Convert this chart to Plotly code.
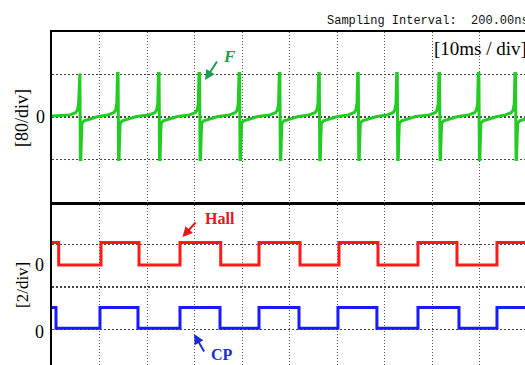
import plotly.graph_objects as go

# ---------------- data ----------------
MS_PER_DIV = 10
# F channel (80 / div): time of each spike (ms)
f_spike_ms = [5.75, 13.79, 22.42, 30.95, 39.37, 47.85, 56.15, 64.36,
              72.57, 81.47, 89.75, 97.47]
# profile of one spike: offset from spike (ms) and value
f_shape_dt = [-2.0, -0.8, -0.4, -0.15, 0.0, 0.12, 0.22, 0.32, 0.42, 0.55, 1.0, 2.5, 4.0]
f_shape_val = [4, 8, 13, 25, 82, 82, -80, -80, -45, -12, -7, -3, 1]
f_start_val = 2

# Hall channel (2 / div): edge times (ms), starts high
hall_edges_ms = [1.41, 10.32, 18.32, 26.95, 35.52, 43.58, 52.21, 60.42,
                 68.63, 77.05, 85.26, 93.68]
hall_low, hall_high = 0.0, 1.05
hall_zero = 1.04        # channel zero position on the lower screen

# CP channel (2 / div): edge times (ms), starts high
cp_edges_ms = [0.84, 10.10, 18.10, 26.95, 35.37, 43.58, 52.00, 60.20,
               68.40, 77.05, 85.68, 93.68]
cp_low, cp_high = 0.0, 0.97
cp_zero = -1.94
T_END_MS = 100.0

# ---------------- layout geometry (page pixels) ----------------
W_PAGE, H_PAGE = 525, 365
ML, MT = 52, 32                 # plot area corner in page pixels
PX_PER_DIV = 47.5
PW, PH = W_PAGE - ML, H_PAGE - MT
X_MAX = PW / PX_PER_DIV * MS_PER_DIV
SPLIT = (H_PAGE - 202) / PH

# ---------------- build traces ----------------
f_t, f_v = [0.0], [f_start_val]
for ts in f_spike_ms:
    for dt, v in zip(f_shape_dt, f_shape_val):
        f_t.append(ts + dt)
        f_v.append(v)


def square(edges, lo, hi, zero):
    t, v = [0.0], [hi + zero]
    level = hi
    for e in edges:
        t.append(e); v.append(level + zero)
        level = lo if level == hi else hi
        t.append(e); v.append(level + zero)
    t.append(T_END_MS); v.append(level + zero)
    return t, v


h_t, h_v = square(hall_edges_ms, hall_low, hall_high, hall_zero)
c_t, c_v = square(cp_edges_ms, cp_low, cp_high, cp_zero)

fig = go.Figure()
fig.add_trace(go.Scatter(x=f_t, y=f_v, mode="lines", xaxis="x", yaxis="y",
                         line=dict(color="#22cc22", width=3), hoverinfo="skip"))
fig.add_trace(go.Scatter(x=h_t, y=h_v, mode="lines", xaxis="x2", yaxis="y2",
                         line=dict(color="#ff1a1a", width=3), hoverinfo="skip"))
fig.add_trace(go.Scatter(x=c_t, y=c_v, mode="lines", xaxis="x2", yaxis="y2",
                         line=dict(color="#1a1aff", width=3), hoverinfo="skip"))


def px(x):
    return (x - ML) / PW


def py(y):
    return (H_PAGE - y) / PH


grid_v = dict(showgrid=True, gridcolor="#555555", gridwidth=1, griddash="1px,2px")
grid_h = dict(showgrid=True, gridcolor="#444444", gridwidth=1.3, griddash="2px,2px")

fig.update_layout(
    width=W_PAGE, height=H_PAGE,
    margin=dict(l=ML, r=0, t=MT, b=0),
    paper_bgcolor="white", plot_bgcolor="white",
    showlegend=False,
    xaxis=dict(domain=[0, 1], anchor="y", range=[0, X_MAX], dtick=10, tick0=0,
               showticklabels=False, ticks="", zeroline=False,
               showline=True, mirror=True, linecolor="black", linewidth=2.5, **grid_v),
    xaxis2=dict(domain=[0, 1], anchor="y2", matches="x", range=[0, X_MAX], dtick=10, tick0=0,
                showticklabels=False, ticks="", zeroline=False, showline=False, **grid_v),
    yaxis=dict(domain=[SPLIT, 1], anchor="x", range=[-160, 160], dtick=80, tick0=0,
               showticklabels=False, ticks="", zeroline=False,
               showline=True, linecolor="black", linewidth=2.5, **grid_h),
    yaxis2=dict(domain=[0, SPLIT], anchor="x2", range=[-78 / 21.25, 4], dtick=2, tick0=0,
                showticklabels=False, ticks="", zeroline=False,
                showline=True, linecolor="black", linewidth=2.5, **grid_h),
)

serif = "Liberation Serif, Times New Roman, serif"
ann = []


def text(x, y, s, size, color="black", family=serif, angle=0, xanchor="center"):
    ann.append(dict(xref="paper", yref="paper", x=px(x), y=py(y), text=s,
                    showarrow=False, xanchor=xanchor, yanchor="middle", textangle=angle,
                    font=dict(size=size, color=color, family=family)))


def arrow(x_tip, y_tip, x_tail, y_tail, color):
    ann.append(dict(xref="paper", yref="paper", x=px(x_tip), y=py(y_tip), text="",
                    showarrow=True, ax=x_tail - x_tip, ay=y_tail - y_tip,
                    arrowhead=2, arrowsize=1, arrowwidth=2, arrowcolor=color,
                    standoff=0, startstandoff=0))


text(325, 20.5, "Sampling Interval:  200.00ns", 12, "#111111",
     "Liberation Mono, DejaVu Sans Mono, monospace", xanchor="left")
text(480, 49, "[10ms / div]", 19)
text(22, 118, "[80/div]", 18, angle=-90)
text(40, 117, "0", 18)
text(22, 285, "[2/div]", 17, angle=-90)
text(39, 265, "0", 18)
text(39, 332, "0", 18)

text(229, 57, "<b><i>F</i></b>", 17, "#1a9e50")
arrow(205, 80, 218, 60, "#1a9e50")
text(219.5, 218, "<b>Hall</b>", 16, "#e8141e")
arrow(182.5, 237, 197, 221, "#e8141e")
text(222, 354, "<b>CP</b>", 16, "#1a2ed0")
arrow(194, 334, 205, 353, "#1a2ed0")

fig.update_layout(annotations=ann)
# remove the default page margin so the 525x365 figure fills the window exactly
fig.write_html("out.html",
               config={"displayModeBar": False, "staticPlot": True},
               post_script="document.body.style.margin='0';"
                           "document.body.style.overflow='hidden';")
